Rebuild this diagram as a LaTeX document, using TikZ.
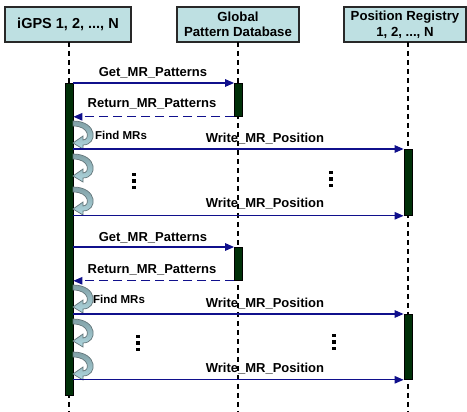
\documentclass[tikz,border=0pt]{standalone}
\usepackage{fontspec}
\setmainfont{Liberation Sans}
\usetikzlibrary{arrows.meta}
\definecolor{boxfill}{RGB}{190,224,226}
\definecolor{boxedge}{RGB}{40,40,40}
\definecolor{msgblue}{RGB}{16,16,140}
\definecolor{barfill}{RGB}{0,48,8}
\definecolor{looplight}{RGB}{176,216,224}
\definecolor{loopdark}{RGB}{128,160,166}
\definecolor{loopedge}{RGB}{100,118,122}

\tikzset{
  % self-call: a curved ribbon arrow returning to the activation bar
  selfloop/.pic={
    \path[draw=loopedge, line width=0.7pt, top color=loopdark, bottom color=looplight]
      (0,0) .. controls (25,0) and (25,24) .. (10,24)
      -- (10,28) -- (0,22) -- (10,15) -- (10,19)
      .. controls (17,19) and (17,5) .. (0,5) -- cycle;
  },
  % vertical ellipsis drawn as three square dots
  vdots/.pic={
    \fill (0,0) rectangle (3.5,3.5);
    \fill (0,6.5) rectangle (3.5,10);
    \fill (0,13) rectangle (3.5,16.5);
  }
}

\begin{document}
\begin{tikzpicture}[x=1pt, y=-1pt,
  actor/.style={draw=boxedge, line width=1.4pt, fill=boxfill, minimum height=35pt,
    inner sep=0pt, align=center, font=\bfseries\fontsize{13.2}{15.5}\selectfont},
  lifeline/.style={line width=1.3pt, dash pattern=on 5pt off 4pt},
  actbar/.style={draw=black, line width=0.8pt, fill=barfill, minimum width=8pt,
    inner sep=0pt, anchor=north},
  msg/.style={draw=msgblue, line width=1.3pt, -{Triangle[length=9pt,width=7.5pt]}, msgblue},
  ret/.style={msg, dash pattern=on 9pt off 5pt},
  lbl/.style={font=\bfseries\fontsize{13}{15}\selectfont, inner sep=0pt, anchor=base},
  small/.style={font=\bfseries\fontsize{11.5}{13}\selectfont, inner sep=0pt, anchor=base west}
]
\useasboundingbox (0,0) rectangle (467,412);

% participants
\node[actor, minimum width=126pt, font=\bfseries\fontsize{14.5}{16}\selectfont] (ig) at (68,24.5) {iGPS 1, 2, ..., N};
\node[actor, minimum width=122pt] (gp) at (238,24.5) {Global\\Pattern Database};
\node[actor, minimum width=122pt] (pr) at (405,24.5) {Position Registry\\1, 2, ..., N};

% lifelines
\coordinate (l1) at (69,42);
\coordinate (l2) at (238,42);
\coordinate (l3) at (408,42);
\coordinate (l1e) at (69,412);
\coordinate (l2e) at (238,412);
\coordinate (l3e) at (408,412);
\draw[lifeline] (l1) -- (l1e);
\draw[lifeline] (l2) -- (l2e);
\draw[lifeline] (l3) -- (l3e);

% activation bars
\node[actbar, minimum height=312pt] (b1) at (69,83) {};
\node[actbar, minimum height=33pt] (b2a) at (238.5,83) {};
\node[actbar, minimum height=33pt] (b2b) at (238.5,247) {};
\node[actbar, minimum height=66pt] (b3a) at (408,149) {};
\node[actbar, minimum height=65pt] (b3b) at (408,314) {};

% first round
\draw[msg] (b1.north east) -- (b2a.north west);
\node[lbl] at (153,77) {Get\_MR\_Patterns};
\draw[ret] (b2a.south west) -- (b1.east |- b2a.south);
\node[lbl] at (152,108) {Return\_MR\_Patterns};

\pic at (73,121) {selfloop};
\node[small] at (95,140) {Find MRs};
\draw[msg] (b1.east |- b3a.north) -- (b3a.north west);
\node[lbl] at (265,143) {Write\_MR\_Position};
\pic at (73,154) {selfloop};
\pic at (73,187) {selfloop};
\pic at (132,173) {vdots};
\pic at (329,171) {vdots};
\draw[msg] (b1.east |- b3a.south) -- (b3a.south west);
\node[lbl] at (265,208) {Write\_MR\_Position};

% second round
\draw[msg] (b1.east |- b2b.north) -- (b2b.north west);
\node[lbl] at (153,242) {Get\_MR\_Patterns};
\draw[ret] (b2b.south west) -- (b1.east |- b2b.south);
\node[lbl] at (152,274) {Return\_MR\_Patterns};

\pic at (73,285) {selfloop};
\node[small] at (93,304) {Find MRs};
\draw[msg] (b1.east |- b3b.north) -- (b3b.north west);
\node[lbl] at (265,308) {Write\_MR\_Position};
\pic at (73,319) {selfloop};
\pic at (73,352) {selfloop};
\pic at (136,335) {vdots};
\pic at (332,334) {vdots};
\draw[msg] (b1.east |- b3b.south) -- (b3b.south west);
\node[lbl] at (265,373) {Write\_MR\_Position};
\end{tikzpicture}
\end{document}
